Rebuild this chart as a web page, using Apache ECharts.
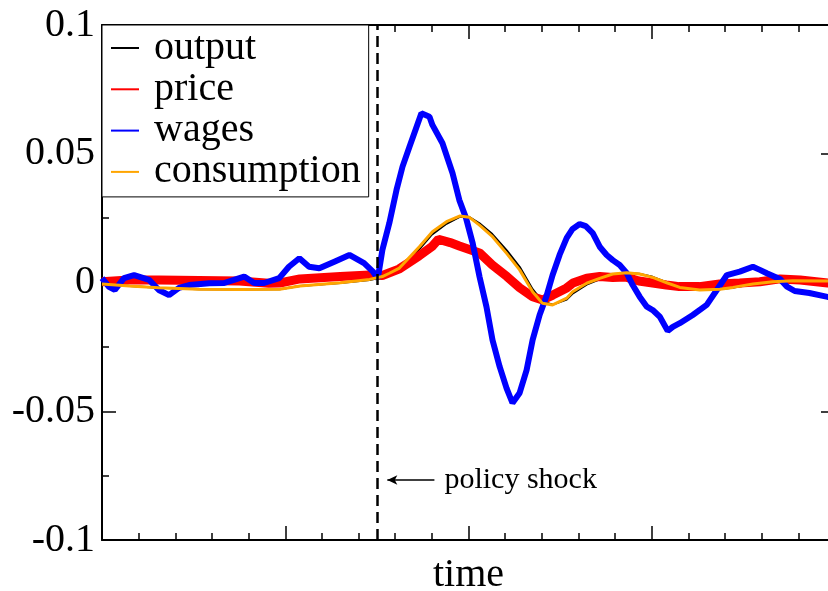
<!DOCTYPE html>
<html><head><meta charset="utf-8">
<script src="https://cdn.jsdelivr.net/npm/echarts@6/dist/echarts.min.js"></script>
<style>html,body{margin:0;padding:0;background:#fff}#c{width:828px;height:591px}</style>
</head><body><div id="c"></div>
<script>
const seriesNames = ['output', 'price', 'wages', 'consumption'];

const output = [[0,-0.0006],[15,-0.0014],[31,-0.0020],[53,-0.0026],[75,-0.0027],[97,-0.0026],[108,-0.0014],[130,-0.0002],[146,0.0010],[153,0.0020],[157,0.0030],[162,0.0048],[173,0.0128],[180,0.0186],[188,0.0228],[195,0.0254],[200.5,0.0254],[206,0.0230],[213,0.0188],[221,0.0124],[228,0.0060],[235,-0.0026],[240.4,-0.0074],[246,-0.0086],[253.6,-0.0066],[257,-0.0042],[264.5,-0.0008],[271.6,0.0012],[278.7,0.0030],[286,0.0037],[293,0.0034],[300.5,0.0022],[308,0.0001],[315,-0.0017],[326,-0.0028],[337,-0.0026],[344,-0.0020],[355,-0.0007],[366,0.0002],[377,0.0006],[396,0.0006],[400,0.0006]];

const price = [[0,0.0003],[14.8,0.0010],[31,0.0010],[53,0.0008],[75,0.0006],[91,-0.0003],[97,-0.0002],[108,0.0014],[130,0.0023],[146,0.0029],[153,0.0027],[162,0.0052],[173,0.0103],[180,0.0139],[183.6,0.0168],[190,0.0155],[195,0.0142],[206,0.0115],[213,0.0068],[221,0.0023],[228,-0.0021],[235,-0.0055],[240.4,-0.0068],[246,-0.0049],[253.6,-0.0021],[257,-0.0002],[264.5,0.0017],[271.6,0.0023],[278.7,0.0019],[286,0.0021],[293,0.0006],[300.5,-0.0002],[308,-0.0010],[315,-0.0016],[326,-0.0016],[337,-0.0006],[348,-0.0002],[359,0.0003],[370,0.0014],[381,0.0010],[396,-0.0002],[400,-0.0003]];

const wages = [[0,0.0017],[3.8,-0.0017],[7,-0.0029],[12,0.0017],[17.5,0.0029],[25.7,0.0010],[31,-0.0029],[36.6,-0.0049],[42,-0.0021],[47.5,-0.0010],[58.5,-0.0003],[66.7,-0.0002],[72,0.0010],[77.6,0.0023],[83,-0.0002],[88.5,-0.0002],[96.7,0.0017],[102,0.0061],[107.7,0.0094],[113,0.0061],[118.6,0.0055],[126.8,0.0081],[135,0.0107],[143,0.0075],[148,0.0041],[150.5,0.0015],[153,0.0126],[156.8,0.0231],[160.7,0.0359],[164,0.0450],[167.8,0.0527],[171.4,0.0599],[174.3,0.0657],[178.7,0.0644],[180.3,0.0612],[185.8,0.0541],[191.3,0.0424],[195,0.0320],[198.7,0.0249],[202.3,0.0152],[206,0.0023],[209.8,-0.0094],[213.1,-0.0223],[217,-0.0327],[220.8,-0.0411],[224,-0.0468],[227.9,-0.0429],[231.7,-0.0340],[235,-0.0223],[238.8,-0.0126],[242.6,-0.0052],[245.9,0.0029],[249.7,0.0107],[253.6,0.0173],[256.8,0.0208],[260.7,0.0227],[264,0.0219],[267.8,0.0192],[271.6,0.0139],[275.4,0.0107],[278.7,0.0087],[282.5,0.0068],[286.3,0.0037],[289.6,-0.0010],[293.4,-0.0055],[297.3,-0.0094],[300.5,-0.0107],[304.4,-0.0133],[308.7,-0.0188],[311.5,-0.0172],[315.3,-0.0158],[322.4,-0.0126],[330,-0.0087],[335.5,-0.0029],[341,0.0029],[348,0.0042],[355.2,0.0061],[359,0.0049],[362.8,0.0036],[369.9,0.0014],[373.8,-0.0016],[378,-0.0033],[386,-0.0041],[396,-0.0056],[400,-0.0060]];

const consumption = [[0,-0.0006],[15,-0.0014],[31,-0.0020],[53,-0.0026],[75,-0.0027],[97,-0.0026],[108,-0.0014],[130,-0.0001],[146,0.0012],[153,0.0023],[156.8,0.0036],[162.3,0.0056],[173.2,0.0139],[180.3,0.0197],[188,0.0236],[195.1,0.0258],[200.5,0.0253],[206,0.0223],[213.1,0.0178],[220.8,0.0113],[227.9,0.0049],[235,-0.0036],[240.4,-0.0081],[245.9,-0.0087],[253.6,-0.0061],[256.8,-0.0036],[264.5,-0.0003],[271.6,0.0016],[278.7,0.0033],[286.3,0.0038],[293.4,0.0033],[300.5,0.0020],[308.2,-0.0001],[315.3,-0.0019],[326.2,-0.0029],[337.2,-0.0026],[344.3,-0.0019],[355.2,-0.0006],[366.1,0.0003],[377,0.0007],[396.2,0.0006],[400,0.0006]];

const yTickValues = [-0.1, -0.05, 0, 0.05, 0.1];
const yTickLabels = ['-0.1', '-0.05', '0', '0.05', '0.1'];
const xAxisName = 'time';
const shockTime = 150;
const shockLabel = 'policy shock';
const arrowLevel = -0.0767;
const arrowFrom = 181.4, arrowTo = 155.7;

const FONT = 'Liberation Serif';
const colors = {output: '#000000', price: '#ff0000', wages: '#0000ff', consumption: '#ffa500'};
const widths = {output: 2, price: 9, wages: 6, consumption: 3};
const dataMap = {output, price, wages, consumption};

const tickStyle = {color: '#000', width: 1.5};
function xAx(pos, withName) {
  const a = {
    type: 'value', min: 0, max: 400, interval: 100, position: pos,
    axisLine: {show: true, onZero: false, lineStyle: {color: '#000', width: 2}},
    axisTick: {show: true, inside: true, length: 14, lineStyle: tickStyle},
    minorTick: {show: true, splitNumber: 5, length: 7, lineStyle: tickStyle},
    axisLabel: {show: false}, splitLine: {show: false}
  };
  if (withName) {
    a.name = xAxisName; a.nameLocation = 'middle'; a.nameGap = 15;
    a.nameTextStyle = {fontFamily: FONT, fontSize: 40, color: '#000'};
  }
  return a;
}
function yAx(pos, withLabels) {
  return {
    type: 'value', min: -0.1, max: 0.1, interval: 0.05, position: pos,
    axisLine: {show: true, onZero: false, lineStyle: {color: '#000', width: 2}},
    axisTick: {show: true, inside: true, length: 14, lineStyle: tickStyle},
    minorTick: {show: true, splitNumber: 2, length: 7, lineStyle: tickStyle},
    splitLine: {show: false},
    axisLabel: withLabels ? {
      show: true, margin: 7, fontFamily: FONT, fontSize: 40, color: '#000',
      formatter: v => {
        const i = yTickValues.findIndex(t => Math.abs(t - v) < 1e-9);
        return i >= 0 ? yTickLabels[i] : '';
      }
    } : {show: false}
  };
}

const series = seriesNames.map(n => ({
  name: n, type: 'line', data: dataMap[n], showSymbol: false, symbol: 'none',
  color: colors[n], lineStyle: {color: colors[n], width: widths[n]},
  xAxisIndex: 0, yAxisIndex: 0, animation: false
}));
series[0].markLine = {
  silent: true, symbol: 'none', animation: false,
  label: {show: false},
  lineStyle: {color: '#000', width: 2.5, type: [11, 6]},
  data: [{xAxis: shockTime}]
};
series[1].markLine = {
  silent: true, symbol: ['none', 'arrow'], symbolSize: [7, 10], animation: false,
  lineStyle: {color: '#000', width: 1.5, type: 'solid'},
  label: {show: true, position: 'start', distance: 10, formatter: shockLabel,
          fontFamily: FONT, fontSize: 30, color: '#000'},
  data: [[{coord: [arrowFrom, arrowLevel]}, {coord: [arrowTo, arrowLevel]}]]
};

const chart = echarts.init(document.getElementById('c'), null, {renderer: 'canvas'});
chart.setOption({
  backgroundColor: '#fff',
  animation: false,
  grid: {left: 102, top: 25, right: -7, bottom: 51, containLabel: false, outerBoundsMode: 'none'},
  xAxis: [xAx('bottom', true), xAx('top', false)],
  yAxis: [yAx('left', true), yAx('right', false)],
  legend: {
    left: 102, top: 25, orient: 'vertical', backgroundColor: '#fff',
    borderColor: '#000', borderWidth: 1, borderRadius: 0,
    padding: [3, 8, 5, 9], itemGap: 1.3, itemWidth: 28, itemHeight: 2, icon: 'rect',
    textStyle: {fontFamily: FONT, fontSize: 40, color: '#000', padding: [0, 0, 0, 10]},
    data: seriesNames, selectedMode: false
  },
  series
});
</script></body></html>
